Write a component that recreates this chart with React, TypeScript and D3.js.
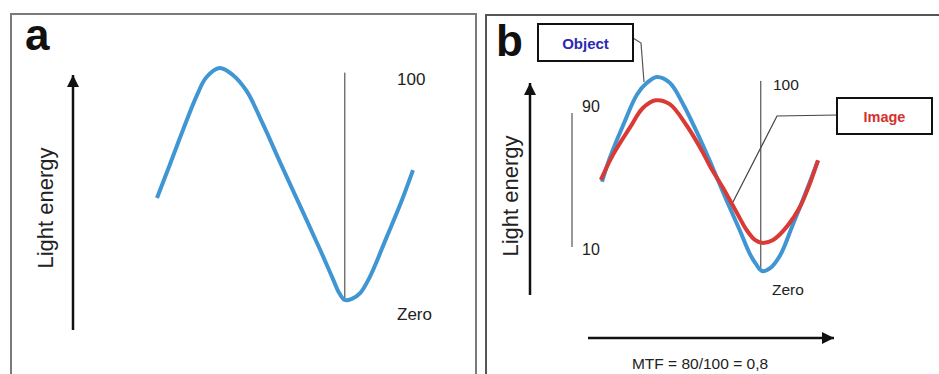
import { useEffect, useRef } from 'react';
import * as d3 from 'd3';

// phase (degrees) and light energy (0 = trough, 100 = peak)
const phaseA = [0, 18, 37, 57, 71, 90, 109, 129, 152, 176, 205, 234, 253, 262, 270, 280, 292, 306, 330, 352, 368];
const energyA = [44, 58, 73, 88, 96, 100, 97, 90, 76, 60, 41, 22, 9, 3, 0, 0.5, 3, 10, 27, 43, 56];

const phaseObject = [-4, 9, 32, 56, 73, 90, 112, 135, 164, 186, 210, 232, 249, 261, 270, 284, 301, 323, 347, 366];
const energyObject = [46, 58, 75, 91, 97, 100, 97, 86, 68, 53, 36, 21, 9, 3, 0, 1.5, 8, 24, 42, 57];

const phaseImage = [-6, 15, 44, 66, 88, 112, 141, 169, 181, 203, 227, 244, 258, 270, 289, 313, 335, 352, 366];
const energyImage = [47, 60, 74, 84, 88, 86, 75, 61, 54, 43, 30, 21, 16, 14.5, 16, 23, 33, 45, 57];

const levelTicks = ['90', '10'];
const mtfLabel = 'MTF = 80/100 = 0,8';

const BLUE = '#3f96d3';
const RED = '#da3a35';
const FONT = '"Liberation Sans", Arial, sans-serif';

const App: React.FC = () => {
    const svgRef = useRef<SVGSVGElement>(null);

    useEffect(() => {
        if (!svgRef.current) return;
        const svg = d3.select(svgRef.current);
        svg.selectAll('*').remove();

        svg.append('rect').attr('width', 939).attr('height', 374).attr('fill', '#fff');

        // arrow markers
        const defs = svg.append('defs');
        defs.append('marker')
            .attr('id', 'arrowHead')
            .attr('viewBox', '0 0 10 10')
            .attr('refX', 10).attr('refY', 5)
            .attr('markerUnits', 'userSpaceOnUse')
            .attr('markerWidth', 13).attr('markerHeight', 12)
            .attr('orient', 'auto')
            .append('path').attr('d', 'M0,0 L10,5 L0,10 Z').attr('fill', '#111');

        // panel frames
        svg.append('path')
            .attr('d', 'M11,374 V14 H476 V374')
            .attr('fill', 'none').attr('stroke', '#7a7a7a').attr('stroke-width', 2);
        svg.append('path')
            .attr('d', 'M486,374 V15 H945')
            .attr('fill', 'none').attr('stroke', '#555').attr('stroke-width', 2);

        const line = (x: d3.ScaleLinear<number, number>, y: d3.ScaleLinear<number, number>) =>
            d3.line<[number, number]>()
                .x(d => x(d[0]))
                .y(d => y(d[1]))
                .curve(d3.curveCatmullRom.alpha(0.5));

        const zip = (a: number[], b: number[]) => a.map((v, i) => [v, b[i]] as [number, number]);

        const label = (x: number, y: number, text: string, size: number, opts: any = {}) =>
            svg.append('text')
                .attr('x', x).attr('y', y)
                .attr('font-family', FONT)
                .attr('font-size', size)
                .attr('font-weight', opts.weight || 'normal')
                .attr('fill', opts.fill || '#222')
                .attr('text-anchor', opts.anchor || 'start')
                .attr('dominant-baseline', 'central')
                .attr('transform', opts.rotate ? `rotate(-90,${x},${y})` : null)
                .text(text);

        // ---------- panel a ----------
        const xA = d3.scaleLinear().domain([0, 368]).range([157, 413]);
        const yA = d3.scaleLinear().domain([0, 100]).range([300, 68]);

        label(25, 34, 'a', 44, { weight: 'bold', fill: '#111' });

        svg.append('line')
            .attr('x1', 73).attr('x2', 73).attr('y1', 330).attr('y2', 75)
            .attr('stroke', '#111').attr('stroke-width', 2.5)
            .attr('marker-end', 'url(#arrowHead)');
        label(45, 208, 'Light energy', 22, { anchor: 'middle', rotate: true });

        svg.append('line')
            .attr('x1', xA(270)).attr('x2', xA(270))
            .attr('y1', yA(98)).attr('y2', yA(0))
            .attr('stroke', '#333').attr('stroke-width', 1);

        svg.append('path')
            .datum(zip(phaseA, energyA))
            .attr('d', line(xA, yA))
            .attr('fill', 'none').attr('stroke', BLUE).attr('stroke-width', 4);

        label(397, 79, '100', 17);
        label(397, 314, 'Zero', 17);

        // ---------- panel b ----------
        const xB = d3.scaleLinear().domain([-4, 366]).range([602, 818]);
        const yB = d3.scaleLinear().domain([0, 100]).range([271, 77]);

        label(496, 40, 'b', 44, { weight: 'bold', fill: '#111' });

        svg.append('line')
            .attr('x1', 530).attr('x2', 530).attr('y1', 295).attr('y2', 83)
            .attr('stroke', '#111').attr('stroke-width', 2.5)
            .attr('marker-end', 'url(#arrowHead)');
        label(510, 196, 'Light energy', 22, { anchor: 'middle', rotate: true });

        svg.append('line')
            .attr('x1', 588).attr('x2', 834).attr('y1', 338).attr('y2', 338)
            .attr('stroke', '#111').attr('stroke-width', 2.5)
            .attr('marker-end', 'url(#arrowHead)');
        label(700, 363, mtfLabel, 15.5, { anchor: 'middle' });

        // level scale 90 / 10
        svg.append('line')
            .attr('x1', 572).attr('x2', 572).attr('y1', 113).attr('y2', 247)
            .attr('stroke', '#333').attr('stroke-width', 1);
        label(582, 106, levelTicks[0], 16);
        label(582, 249, levelTicks[1], 16);

        svg.append('line')
            .attr('x1', xB(268)).attr('x2', xB(268))
            .attr('y1', yB(98)).attr('y2', yB(0))
            .attr('stroke', '#333').attr('stroke-width', 1);
        label(773, 84, '100', 15.5);
        label(772, 289, 'Zero', 15.5);

        // leader lines
        svg.append('path')
            .attr('d', 'M633,38 L641,43 L644,82')
            .attr('fill', 'none').attr('stroke', '#555').attr('stroke-width', 1.2);
        svg.append('path')
            .attr('d', 'M837,115 L777,116 L733,202')
            .attr('fill', 'none').attr('stroke', '#444').attr('stroke-width', 1.2);

        svg.append('path')
            .datum(zip(phaseObject, energyObject))
            .attr('d', line(xB, yB))
            .attr('fill', 'none').attr('stroke', BLUE).attr('stroke-width', 4);
        svg.append('path')
            .datum(zip(phaseImage, energyImage))
            .attr('d', line(xB, yB))
            .attr('fill', 'none').attr('stroke', RED).attr('stroke-width', 4);

        // callout boxes
        svg.append('rect')
            .attr('x', 538).attr('y', 24).attr('width', 95).attr('height', 37)
            .attr('fill', '#fff').attr('stroke', '#111').attr('stroke-width', 2);
        label(585.5, 43, 'Object', 15, { weight: 'bold', fill: '#2b2ab3', anchor: 'middle' });

        svg.append('rect')
            .attr('x', 837).attr('y', 98).attr('width', 95).attr('height', 36)
            .attr('fill', '#fff').attr('stroke', '#111').attr('stroke-width', 2);
        label(884.5, 117, 'Image', 14.5, { weight: 'bold', fill: '#d6302e', anchor: 'middle' });
    }, []);

    return (
        <svg
            ref={svgRef}
            width={939}
            height={374}
            style={{ position: 'absolute', left: 0, top: 0, display: 'block' }}
        />
    );
};

export default App;
